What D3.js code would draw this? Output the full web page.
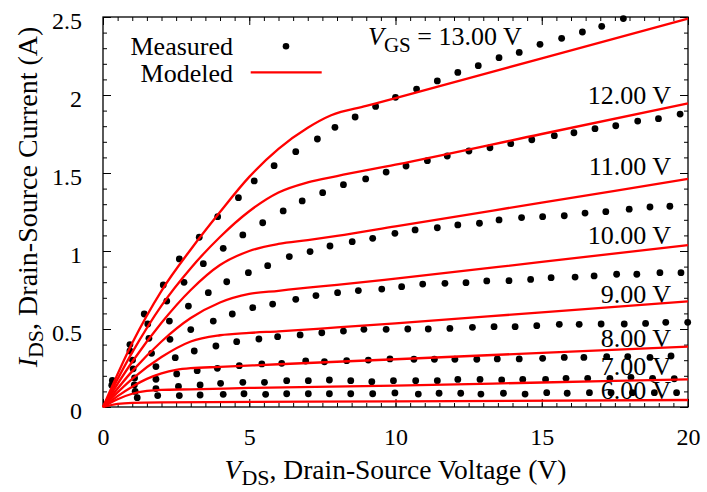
<!DOCTYPE html>
<html>
<head>
<meta charset="utf-8">
<script src="https://cdn.jsdelivr.net/npm/d3@7"></script>
<style>
  body { margin: 0; background: #fff; }
  text { font-family: "Liberation Serif", "Times New Roman", serif; fill: #000; }
</style>
</head>
<body>
<svg id="chart" width="707" height="492"></svg>
<script>
// gate voltages, one curve each
const vgsLevels = [13, 12, 11, 10, 9, 8, 7, 6];

const xTicks = [0, 5, 10, 15, 20];
const yTicks = [0, 0.5, 1, 1.5, 2, 2.5];
const yTickLabels = ["0", "0.5", "1", "1.5", "2", "2.5"];

// measured points [Vds, Ids]
const measured13 = [[0.32,0.17],[0.92,0.40],[1.41,0.596],[2.06,0.782],[2.61,0.949],[3.29,1.088],[3.92,1.22],[4.63,1.342],[5.17,1.449],[5.85,1.547],[6.59,1.637],[7.33,1.718],[7.93,1.793],[8.62,1.859],[9.32,1.927],[10.0,1.985],[10.72,2.038],[11.43,2.09],[12.13,2.145],[12.83,2.188],[13.54,2.239],[14.23,2.273],[14.94,2.325],[15.68,2.363],[16.39,2.404],[17.05,2.44],[17.79,2.49]];
const measured12 = [[0.30,0.14],[0.92,0.359],[1.53,0.532],[2.18,0.679],[2.77,0.799],[3.43,0.919],[4.11,1.017],[4.78,1.103],[5.46,1.181],[6.16,1.257],[6.81,1.321],[7.51,1.374],[8.22,1.425],[8.98,1.462],[9.68,1.506],[10.36,1.545],[11.09,1.579],[11.77,1.609],[12.51,1.641],[13.23,1.662],[13.94,1.688],[14.66,1.713],[15.43,1.739],[16.1,1.758],[16.82,1.784],[17.53,1.803],[18.28,1.833],[18.99,1.848],[19.73,1.878]];
const measured11 = [[1.01,0.301],[1.57,0.44],[2.27,0.551],[2.92,0.647],[3.6,0.733],[4.23,0.803],[4.97,0.861],[5.63,0.906],[6.37,0.964],[7.08,0.996],[7.76,1.032],[8.52,1.06],[9.22,1.081],[9.98,1.113],[10.67,1.135],[11.43,1.149],[12.13,1.167],[12.87,1.178],[13.54,1.199],[14.31,1.214],[15.03,1.22],[15.77,1.226],[16.48,1.243],[17.19,1.252],[17.99,1.268],[18.7,1.282],[19.38,1.287]];
const measured10 = [[1.03,0.245],[1.66,0.344],[2.29,0.434],[3.0,0.496],[3.77,0.551],[4.42,0.596],[5.12,0.637],[5.8,0.66],[6.59,0.69],[7.28,0.714],[8.02,0.733],[8.73,0.746],[9.53,0.756],[10.21,0.771],[10.93,0.788],[11.69,0.793],[12.41,0.797],[13.12,0.808],[13.88,0.81],[14.62,0.818],[15.32,0.829],[16.14,0.833],[16.79,0.84],[17.56,0.851],[18.25,0.851],[19.04,0.861],[19.76,0.861]];
const measured9 = [[1.08,0.186],[1.81,0.259],[2.47,0.316],[3.12,0.359],[3.86,0.391],[4.57,0.419],[5.33,0.436],[5.97,0.451],[6.74,0.462],[7.48,0.476],[8.22,0.487],[8.92,0.498],[9.68,0.498],[10.42,0.5],[11.12,0.5],[11.86,0.504],[12.63,0.511],[13.37,0.515],[14.09,0.515],[14.83,0.521],[15.6,0.53],[16.28,0.53],[17.03,0.532],[17.82,0.532],[18.55,0.536],[19.24,0.543],[19.99,0.543]];
const measured8 = [[1.07,0.141],[1.81,0.178],[2.52,0.212],[3.22,0.233],[3.91,0.248],[4.66,0.265],[5.43,0.276],[6.11,0.28],[6.93,0.295],[7.57,0.29],[8.33,0.297],[9.07,0.301],[9.81,0.308],[10.63,0.306],[11.33,0.306],[12.03,0.306],[12.78,0.306],[13.48,0.308],[14.23,0.308],[15.03,0.312],[15.77,0.318],[16.44,0.318],[17.22,0.323],[17.94,0.323],[18.7,0.318],[19.42,0.327]];
const measured7 = [[1.1,0.10],[1.81,0.118],[2.58,0.132],[3.32,0.141],[4.02,0.152],[4.78,0.158],[5.52,0.158],[6.28,0.169],[7.02,0.169],[7.74,0.173],[8.47,0.169],[9.19,0.162],[9.93,0.169],[10.69,0.169],[11.43,0.169],[12.13,0.177],[12.89,0.177],[13.63,0.173],[14.35,0.177],[15.13,0.177],[15.83,0.184],[16.57,0.184],[17.33,0.184],[18.05,0.19],[18.79,0.184],[19.53,0.181]];
const measured6 = [[1.17,0.06],[1.87,0.073],[2.61,0.073],[3.32,0.077],[4.11,0.081],[4.82,0.085],[5.56,0.081],[6.28,0.085],[7.02,0.085],[7.74,0.085],[8.47,0.085],[9.22,0.085],[9.98,0.09],[10.78,0.083],[11.49,0.088],[12.23,0.088],[12.92,0.083],[13.69,0.088],[14.43,0.083],[15.17,0.092],[15.87,0.088],[16.63,0.092],[17.37,0.092],[18.1,0.092],[18.85,0.092],[19.61,0.092]];

// modeled curves [Vds, Ids]
const modeled13 = [[0,0],[1,0.41],[2,0.745],[3,1.01],[4,1.25],[5,1.475],[6,1.655],[7,1.79],[7.8,1.87],[9,1.93],[10,1.98],[15,2.235],[20,2.49]];
const modeled12 = [[0,0],[1,0.35],[2,0.65],[3,0.89],[4,1.09],[5,1.255],[6,1.375],[7,1.44],[8,1.48],[10,1.553],[15,1.75],[20,1.947]];
const modeled11 = [[0,0],[1,0.29],[2,0.54],[3,0.75],[4,0.91],[5,1.0],[6,1.045],[7,1.07],[8,1.097],[10,1.158],[15,1.31],[20,1.462]];
const modeled10 = [[0,0],[1,0.23],[2,0.42],[3,0.57],[4,0.67],[5,0.725],[6,0.745],[7,0.765],[8,0.783],[10,0.823],[15,0.93],[20,1.038]];
const modeled9 = [[0,0],[1,0.18],[2,0.32],[3,0.42],[4,0.46],[5,0.475],[6,0.485],[8,0.51],[10,0.536],[15,0.607],[20,0.677]];
const modeled8 = [[0,0],[0.5,0.07],[1,0.13],[1.5,0.18],[2,0.215],[2.5,0.238],[3,0.249],[4,0.257],[6,0.274],[10,0.306],[15,0.347],[20,0.387]];
const modeled7 = [[0,0],[0.5,0.05],[1,0.085],[1.5,0.103],[2,0.11],[3,0.113],[5,0.122],[10,0.137],[15,0.157],[20,0.177]];
const modeled6 = [[0,0],[0.5,0.02],[1,0.027],[2,0.03],[10,0.036],[20,0.045]];

const measuredSets = [measured13, measured12, measured11, measured10, measured9, measured8, measured7, measured6];
const modeledSets = [modeled13, modeled12, modeled11, modeled10, modeled9, modeled8, modeled7, modeled6];

// where the Vgs labels sit (data units); first one is left-anchored
const labelPos = [[9.06, 2.32], [19.42, 1.942], [19.42, 1.49], [19.42, 1.043], [19.42, 0.665], [19.42, 0.387], [19.42, 0.205], [19.42, 0.049]];

const svg = d3.select("#chart");
const x = d3.scaleLinear().domain([0, 20]).range([103, 688]);
const y = d3.scaleLinear().domain([0, 2.5]).range([407, 17]);

const fmtV = d3.format(".2f");

function addAxis(axis, tx, ty) {
  const g = svg.append("g")
    .attr("transform", "translate(" + tx + "," + ty + ")")
    .call(axis);
  g.select(".domain").remove();
  g.attr("font-family", null).attr("font-size", null);
  g.selectAll("line").attr("stroke", "#000").attr("stroke-width", 1);
  g.selectAll("text").style("font-size", "24px");
  return g;
}

const xMinor = d3.range(0, 20.001, 0.5);
const yMinor = d3.range(0, 2.5001, 0.1);

// minor ticks on all four sides
addAxis(d3.axisBottom(x).tickValues(xMinor).tickSize(-4).tickFormat(""), 0, 407);
addAxis(d3.axisTop(x).tickValues(xMinor).tickSize(-4).tickFormat(""), 0, 17);
addAxis(d3.axisLeft(y).tickValues(yMinor).tickSize(-4).tickFormat(""), 103, 0);
addAxis(d3.axisRight(y).tickValues(yMinor).tickSize(-4).tickFormat(""), 688, 0);

// major ticks
addAxis(d3.axisBottom(x).tickValues(xTicks).tickSize(-8).tickPadding(21).tickFormat(d3.format("d")), 0, 407);
addAxis(d3.axisTop(x).tickValues(xTicks).tickSize(-8).tickFormat(""), 0, 17);
addAxis(d3.axisLeft(y).tickValues(yTicks).tickSize(-8).tickPadding(21)
  .tickFormat((d, i) => yTickLabels[i]), 103, 0)
  .selectAll("text").attr("dy", "0.47em");
addAxis(d3.axisRight(y).tickValues(yTicks).tickSize(-8).tickFormat(""), 688, 0);

svg.append("rect")
  .attr("x", x(0)).attr("y", y(2.5))
  .attr("width", x(20) - x(0)).attr("height", y(0) - y(2.5))
  .attr("fill", "none").attr("stroke", "#000").attr("stroke-width", 1.3);

// axis titles
const xt = svg.append("text")
  .attr("x", (x(0) + x(20)) / 2).attr("y", 479)
  .attr("text-anchor", "middle").style("font-size", "27.5px");
xt.append("tspan").style("font-style", "italic").text("V");
xt.append("tspan").attr("dy", 6).style("font-size", "22px").text("DS");
xt.append("tspan").attr("dy", -6).text(", Drain-Source Voltage (V)");

const yt = svg.append("text")
  .attr("transform", "translate(37,197) rotate(-90)")
  .attr("text-anchor", "middle").style("font-size", "28px");
yt.append("tspan").style("font-style", "italic").text("I");
yt.append("tspan").attr("dy", 6).style("font-size", "22px").text("DS");
yt.append("tspan").attr("dy", -6).text(", Drain-Source Current (A)");

// curve labels
vgsLevels.forEach((v, i) => {
  const p = labelPos[i];
  const t = svg.append("text")
    .attr("x", x(p[0])).attr("y", y(p[1]))
    .attr("text-anchor", i === 0 ? "start" : "end")
    .style("font-size", "26px");
  if (i === 0) {
    t.append("tspan").style("font-style", "italic").text("V");
    t.append("tspan").attr("dy", 6.5).style("font-size", "21px").text("GS");
    t.append("tspan").attr("dy", -6.5).text(" = " + fmtV(v) + " V");
  } else {
    t.text(fmtV(v) + " V");
  }
});

// legend
svg.append("text").attr("x", 233).attr("y", 55).attr("text-anchor", "end")
  .style("font-size", "26px").text("Measured");
svg.append("text").attr("x", 233).attr("y", 81.7).attr("text-anchor", "end")
  .style("font-size", "26px").text("Modeled");
svg.append("circle").attr("cx", 286).attr("cy", 46.3).attr("r", 3.3).attr("fill", "#000");
svg.append("line").attr("x1", 250.7).attr("x2", 321.7).attr("y1", 72.3).attr("y2", 72.3)
  .attr("stroke", "#ff0000").attr("stroke-width", 2.3);

// measured dots
svg.append("g").selectAll("g")
  .data(measuredSets)
  .enter().append("g")
  .selectAll("circle")
  .data(d => d)
  .enter().append("circle")
  .attr("cx", d => x(d[0]))
  .attr("cy", d => y(d[1]))
  .attr("r", 3.4)
  .attr("fill", "#000");

// modeled lines
const line = d3.line()
  .x(d => x(d[0]))
  .y(d => y(d[1]))
  .curve(d3.curveMonotoneX);

svg.append("g").selectAll("path")
  .data(modeledSets)
  .enter().append("path")
  .attr("d", line)
  .attr("fill", "none")
  .attr("stroke", "#ff0000")
  .attr("stroke-width", 2.3);
</script>
</body>
</html>
